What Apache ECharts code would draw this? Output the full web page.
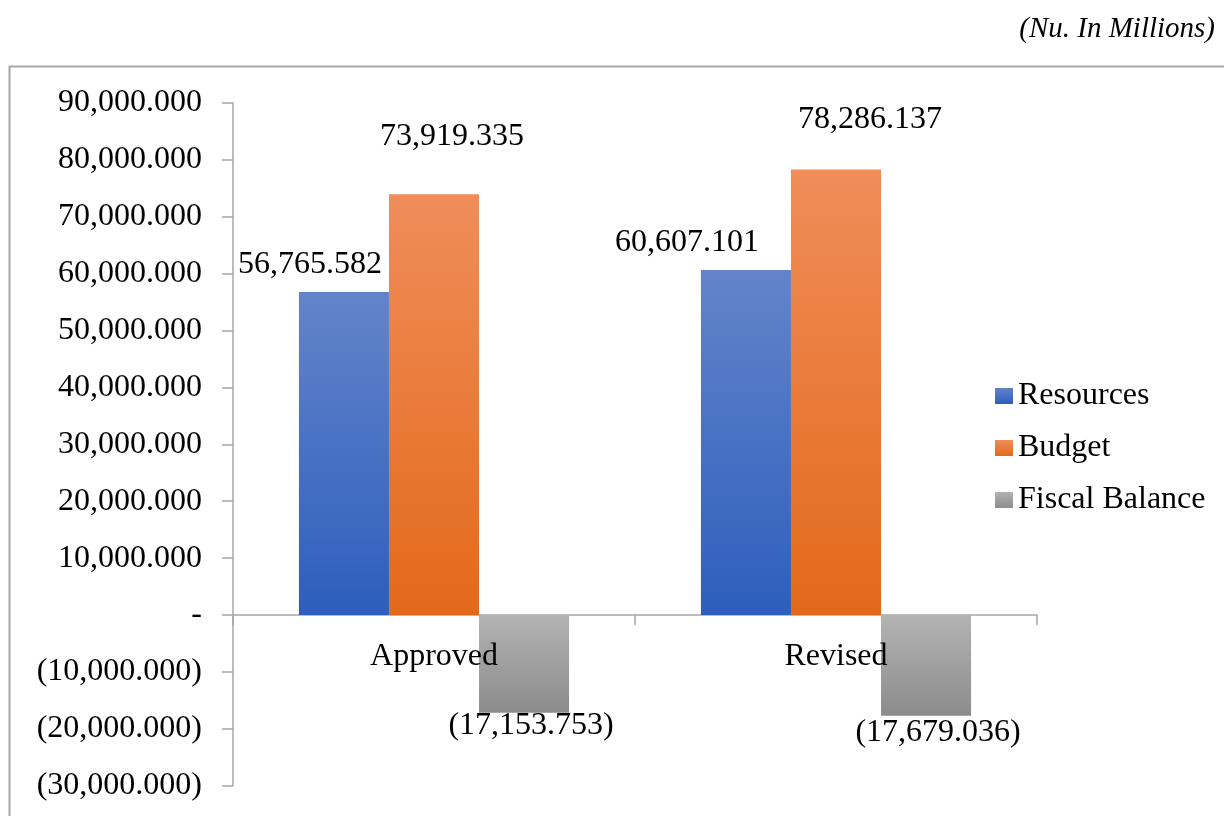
<!DOCTYPE html>
<html>
<head>
<meta charset="utf-8">
<title>Resources, Budget and Fiscal Balance</title>
<script src="https://cdn.jsdelivr.net/npm/echarts@6/dist/echarts.min.js"></script>
<style>
  html, body { margin: 0; padding: 0; background: #ffffff; }
  #chart { width: 1224px; height: 816px; }
</style>
</head>
<body>
<div id="chart"></div>
<script>
// Budget figures, Nu. in millions
const categories = ['Approved', 'Revised'];
const resources = [56765.582, 60607.101];
const budget = [73919.335, 78286.137];
const fiscalBalance = [-17153.753, -17679.036];
const seriesNames = ['Resources', 'Budget', 'Fiscal Balance'];

// per-bar nudges for the value labels [dx, dy]
const labelNudge = {
  Resources: [[-34, -6], [-59, -6]],
  Budget: [[18, -37], [34, -29]],
  'Fiscal Balance': [[7, -8], [12, -4]]
};

const FONT = "'Liberation Serif', 'Times New Roman', 'DejaVu Serif', serif";
const AXIS_GREY = '#a6a6a6';

const GRID_TOP = 102.7;
const GRID_BOTTOM = 30.2;
const CHART_H = 816;
const Y_MIN = -30000;
const Y_MAX = 90000;

function accounting(v) {
  if (v === 0) return '-';
  const s = Math.abs(v).toLocaleString('en-US', { minimumFractionDigits: 3, maximumFractionDigits: 3 });
  return v < 0 ? '(' + s + ')' : s;
}

function grad(top, bottom) {
  return {
    type: 'linear', x: 0, y: 0, x2: 0, y2: 1,
    colorStops: [{ offset: 0, color: top }, { offset: 1, color: bottom }]
  };
}

const colors = {
  Resources: grad('#6384ca', '#2d5ebd'),
  Budget: grad('#f08d5a', '#e3691a'),
  'Fiscal Balance': grad('#b3b3b3', '#8c8c8c')
};

function makeSeries(name, values, pos) {
  return {
    name: name,
    type: 'bar',
    xAxisIndex: 0,
    barGap: '0%',
    barCategoryGap: '32.8%',
    itemStyle: { color: colors[name] },
    data: values.map((v, i) => ({
      value: v,
      label: { offset: labelNudge[name][i] }
    })),
    label: {
      show: true,
      position: pos,
      distance: 5,
      fontFamily: FONT,
      fontSize: 32,
      color: '#000000',
      formatter: p => accounting(p.value)
    }
  };
}

// distance from the bottom of the plot up to the zero line
const plotH = CHART_H - GRID_TOP - GRID_BOTTOM;
const zeroLift = plotH * (0 - Y_MIN) / (Y_MAX - Y_MIN);

const chart = echarts.init(document.getElementById('chart'), null, { renderer: 'canvas' });

chart.setOption({
  backgroundColor: '#ffffff',
  animation: false,
  textStyle: { fontFamily: FONT },
  title: {
    text: '(Nu. In Millions)',
    right: 4,
    top: 10,
    textStyle: { fontFamily: FONT, fontSize: 29, fontStyle: 'italic', fontWeight: 'normal', color: '#000000' }
  },
  graphic: [{
    type: 'rect',
    shape: { x: 9.5, y: 66.5, width: 1240, height: 800 },
    style: { fill: 'none', stroke: AXIS_GREY, lineWidth: 2 },
    silent: true,
    z: -1
  }],
  legend: {
    orient: 'vertical',
    left: 990,
    top: 375,
    itemWidth: 18,
    itemHeight: 16,
    itemGap: 20,
    icon: 'rect',
    data: seriesNames,
    textStyle: { fontFamily: FONT, fontSize: 32, color: '#000000' }
  },
  grid: { left: 233, right: 187, top: GRID_TOP, bottom: GRID_BOTTOM, containLabel: false, outerBoundsMode: 'none' },
  xAxis: [{
    type: 'category',
    data: categories,
    axisLine: { onZero: true, lineStyle: { color: AXIS_GREY, width: 1.5 } },
    axisTick: { show: true, length: 10, alignWithLabel: false, lineStyle: { color: AXIS_GREY, width: 1.5 } },
    axisLabel: { show: false }
  }, {
    // category names, set just under the zero line
    type: 'category',
    data: categories,
    position: 'bottom',
    offset: -zeroLift,
    z: 3,
    axisLine: { show: false, onZero: false },
    axisTick: { show: false },
    axisLabel: { margin: 26, fontFamily: FONT, fontSize: 32, color: '#000000' }
  }],
  yAxis: {
    type: 'value',
    min: Y_MIN,
    max: Y_MAX,
    interval: 10000,
    splitLine: { show: false },
    axisLine: { show: true, lineStyle: { color: AXIS_GREY, width: 1.5 } },
    axisTick: { show: true, length: 11, lineStyle: { color: AXIS_GREY, width: 1.5 } },
    axisLabel: { margin: 31, fontFamily: FONT, fontSize: 32, color: '#000000', formatter: accounting }
  },
  series: [
    makeSeries('Resources', resources, 'top'),
    makeSeries('Budget', budget, 'top'),
    makeSeries('Fiscal Balance', fiscalBalance, 'bottom')
  ]
});
</script>
</body>
</html>
